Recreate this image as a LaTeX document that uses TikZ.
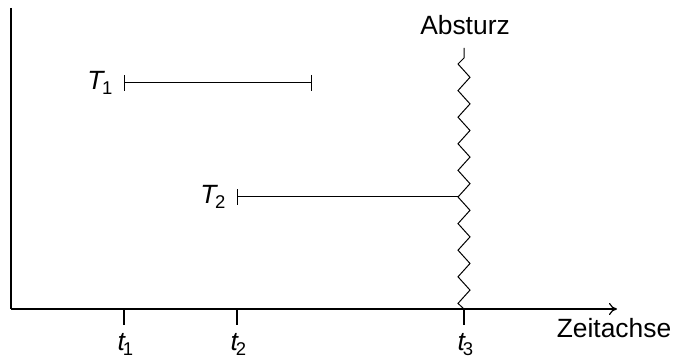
\documentclass[tikz,border=0pt]{standalone}
\usepackage{fontspec}
\setmainfont{Liberation Sans}
\usetikzlibrary{positioning,arrows.meta,calc}

\newcommand{\tsub}[2]{\textit{#1}\kern-1.5pt\textsubscript{#2}}

\begin{document}
\begin{tikzpicture}[x=0.5pt, y=-0.5pt, line width=0.6pt,
    font=\fontsize{13.2}{15}\selectfont,
    every node/.style={inner sep=0pt},
    interval/.style={line width=0.5pt}]
  \useasboundingbox (0,0) rectangle (675,356);
  % axes
  \coordinate (origin) at (11,309);
  \coordinate (ytop) at (11,8);
  \coordinate (xend) at (617,309);
  \draw (ytop) -- (origin);
  \draw[-{To[length=4pt,width=6pt]}] (origin) -- (xend);
  \node[anchor=base] (axis) at (614,338) {Zeitachse};
  % ticks
  \foreach \n/\x in {1/124,2/237,3/464} {
    \coordinate (t\n) at (\x,309);
    \draw (t\n) -- ++(0,16);
    \node[anchor=base] (lt\n) at (\x+2,351) {\tsub{t}{\n}};
  }
  % transactions
  \coordinate (s1) at (124,83);
  \coordinate (e1) at (312,83);
  \coordinate (s2) at (237,197);
  \coordinate (hit) at (458,197);
  \draw[interval, {Bar[width=8pt]}-{Bar[width=8pt]}] (s1) -- (e1);
  \draw[interval, {Bar[width=8pt]}-] (s2) -- (hit);
  \node[left=5pt of s1] (T1) {\tsub{T}{1}};
  \node[left=5pt of s2] (T2) {\tsub{T}{2}};
  % crash
  \coordinate (crash) at (464,48);
  \node[anchor=base] (abs) at (465,35) {Absturz};
  \draw[line width=0.5pt] (crash) -- ++(0,10)
    \foreach \k in {0,...,8} { -- (458,{64+26.6*\k}) -- (470,{77.3+26.6*\k}) }
    -- (458,303.4) -- (t3);
\end{tikzpicture}
\end{document}
